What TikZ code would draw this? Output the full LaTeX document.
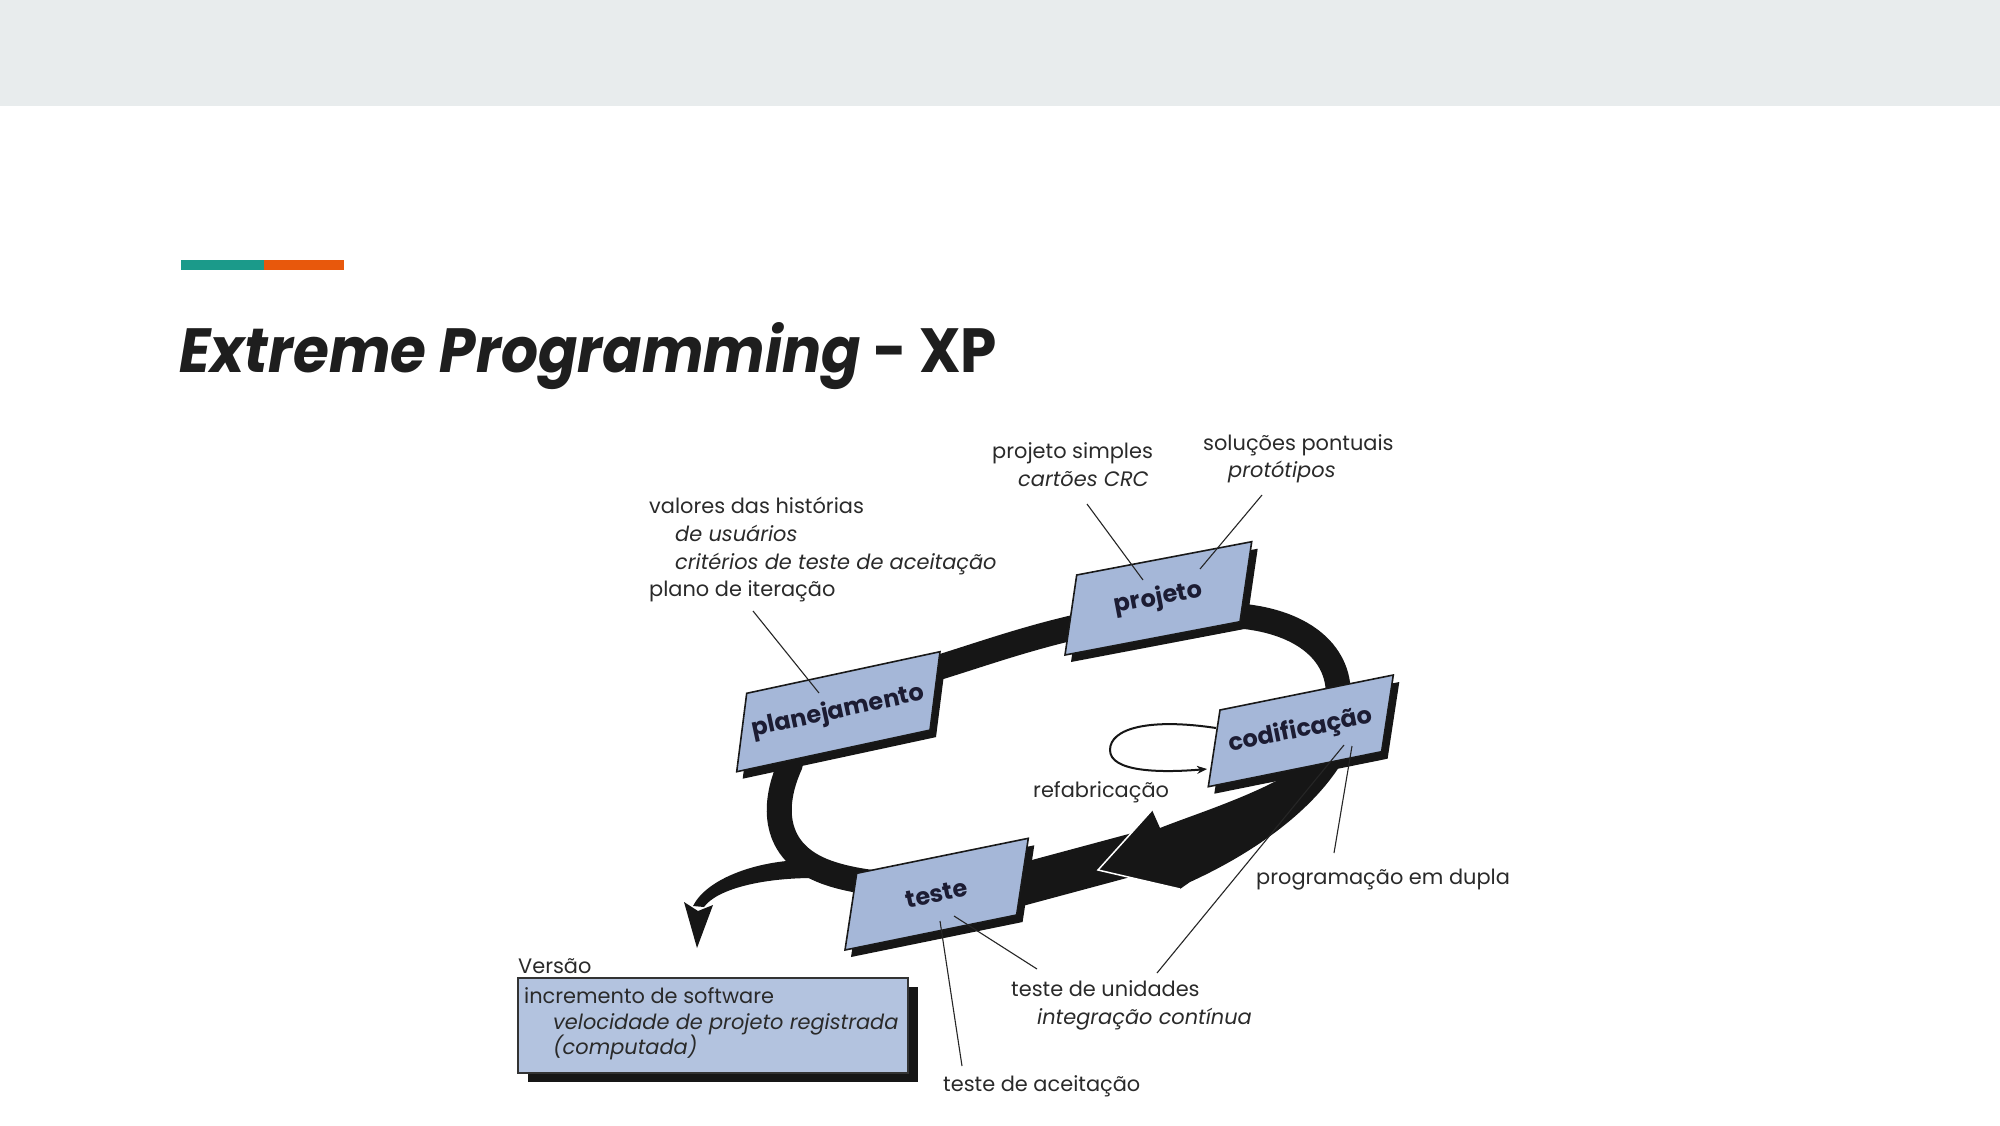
\documentclass[tikz,border=0pt]{standalone}
\usepackage{fontspec}
\setmainfont{Poppins}
\usetikzlibrary{calc,arrows.meta}

\definecolor{topband}{HTML}{E8ECED}
\definecolor{accentA}{HTML}{1B9A8A}
\definecolor{accentB}{HTML}{E8580C}
\definecolor{phasefill}{HTML}{A5B7D8}
\definecolor{versfill}{HTML}{B3C3DF}
\definecolor{ink}{HTML}{2A2A2A}
\definecolor{labelink}{HTML}{1C1C33}
\definecolor{titleink}{HTML}{1E1E1E}
\definecolor{bandink}{HTML}{161616}

\tikzset{
  phase/.style={draw=black!90, line width=1.6pt, fill=phasefill, line join=miter},
  drop/.style={fill=bandink},
  note/.style={anchor=base west, inner sep=0pt, text=ink, font=\fontsize{20.9}{20.9}\selectfont},
  noteit/.style={note, font=\fontsize{20.9}{20.9}\selectfont\itshape},
  leader/.style={draw=black!85, line width=1.1pt},
  phaselabel/.style={font=\fontsize{24}{24}\selectfont\bfseries, text=labelink, inner sep=0pt},
  cycleband/.style={draw=bandink, line width=25pt},
}

% phase card: name, top-left corner, top edge vector, side edge vector, text angle, text
\newcommand\phasebox[6]{%
  \coordinate (#1-tl) at (#2);
  \coordinate (#1-tr) at ($(#1-tl)+(#3)$);
  \coordinate (#1-bl) at ($(#1-tl)+(#4)$);
  \coordinate (#1-br) at ($(#1-tr)+(#4)$);
  \coordinate (#1-c) at ($(#1-tl)!0.5!(#1-br)$);
  \fill[drop] ([shift={(6,7)}]#1-tl) -- ([shift={(6,7)}]#1-tr) -- ([shift={(6,7)}]#1-br) -- ([shift={(6,7)}]#1-bl) -- cycle;
  \filldraw[phase] (#1-tl) -- (#1-tr) -- (#1-br) -- (#1-bl) -- cycle;
  \node[phaselabel, rotate=#5] (#1) at (#1-c) {#6};
}

\begin{document}
\begin{tikzpicture}[x=1pt,y=-1pt]
  \fill[white] (0,0) rectangle (2000,1125);
  \useasboundingbox (0,0) rectangle (2000,1125);

  % header strip and accent bar
  \fill[topband] (0,0) rectangle (2000,106);
  \fill[accentA] (181,260) rectangle (264,270);
  \fill[accentB] (264,260) rectangle (344,270);

  % title
  \node[anchor=base west, inner sep=0pt, text=titleink] (title) at (179,372)
    {\resizebox{818pt}{50pt}{\fontsize{70}{70}\selectfont\bfseries{\itshape Extreme Programming} - XP}};

  % the iteration cycle (its ends are hidden under the cards)
  \draw[cycleband] (1335,750) -- (1338,700)
     .. controls (1342,655) and (1305,622) .. (1240,616)
     -- (1085,625)
     .. controls (1030,637) and (985,653) .. (940,667)
     .. controls (880,685) and (800,720) .. (790,765)
     .. controls (772,805) and (772,852) .. (826,872)
     .. controls (856,883) and (900,887) .. (960,887) -- (1000,887);

  % heavy segment from coding back to testing
  \draw[bandink, line width=42pt] (1150,850) -- (990,893);
  \fill[bandink] (1098,870) -- (1152,810) -- (1160,828) .. controls (1200,812) and (1265,793) .. (1315,758)
     -- (1348,752) .. controls (1320,805) and (1260,850) .. (1190,882) -- (1180,889) -- cycle;
  \draw[white, line width=1.5pt] (1152,810) -- (1098,870) -- (1180,889);

  % release branch
  \fill[bandink] (800,860) .. controls (752,862) and (706,880) .. (693,906) -- (704,907)
     .. controls (716,890) and (760,877) .. (822,878) -- cycle;
  \fill[bandink] (684,902) -- (698,911) -- (713,905) -- (697,948) -- cycle;

  % phase cards
  \phasebox{plan}{746.7,693.3}{193.3,-41.6}{-10,78.4}{12.1}{planejamento}
  \phasebox{proj}{1076.7,575}{175,-33.3}{-11.7,80}{10.8}{projeto}
  \phasebox{cod}{1220,710}{173.3,-35}{-11.7,76.7}{11.4}{codificação}
  \phasebox{tst}{856.7,873.3}{171.6,-35}{-11.7,76.7}{11.5}{teste}

  % refactoring loop
  \coordinate (rf1) at (1216,728);
  \coordinate (rf2) at (1207,769);
  \draw[line width=2pt, draw=bandink, -{Stealth[length=10pt,width=8pt]}] (rf1) .. controls (1150,718) and (1110,728) .. (1110,750) .. controls (1110,772) and (1160,773) .. (rf2);

  % annotations
  \node[note] (ps) at (992,458) {projeto simples};
  \node[noteit] (crc) at (1018,486) {cartões CRC};
  \node[note] (sp) at (1203,450) {soluções pontuais};
  \node[noteit] (prot) at (1228,477) {protótipos};
  \node[note] (vh) at (649,513) {valores das histórias};
  \node[noteit] (du) at (675,541) {de usuários};
  \node[noteit] (ct) at (675,569) {critérios de teste de aceitação};
  \node[note] (pi) at (649,596) {plano de iteração};
  \node[note] (ref) at (1033,797) {refabricação};
  \node[note] (pd) at (1256,884) {programação em dupla};
  \node[note] (tu) at (1011,996) {teste de unidades};
  \node[noteit] (ic) at (1037,1024) {integração contínua};
  \node[note] (ta) at (943,1091) {teste de aceitação};

  % leader lines
  \coordinate (a1) at (1087,504); \coordinate (b1) at (1143,580);
  \coordinate (a2) at (1262,495); \coordinate (b2) at (1200,569);
  \coordinate (a3) at (753,611);  \coordinate (b3) at (819,693);
  \coordinate (a4) at (1334,853); \coordinate (b4) at (1352,746);
  \coordinate (a5) at (1157,973); \coordinate (b5) at (1344,745);
  \coordinate (a6) at (1037,969); \coordinate (b6) at (954,916);
  \coordinate (a7) at (962,1066); \coordinate (b7) at (940,921);
  \foreach \i in {1,...,7} {\draw[leader] (a\i) -- (b\i);}

  % release box
  \node[note] (ver) at (518,973) {Versão};
  \fill[drop] (528,987) rectangle (918,1082);
  \filldraw[draw=black!80, line width=1.6pt, fill=versfill] (518,978) rectangle (908,1073);
  \node[note] (inc) at (524,1003) {incremento de software};
  \node[noteit] (vel) at (553,1029) {velocidade de projeto registrada};
  \node[noteit] (comp) at (553,1054) {(computada)};
\end{tikzpicture}
\end{document}
